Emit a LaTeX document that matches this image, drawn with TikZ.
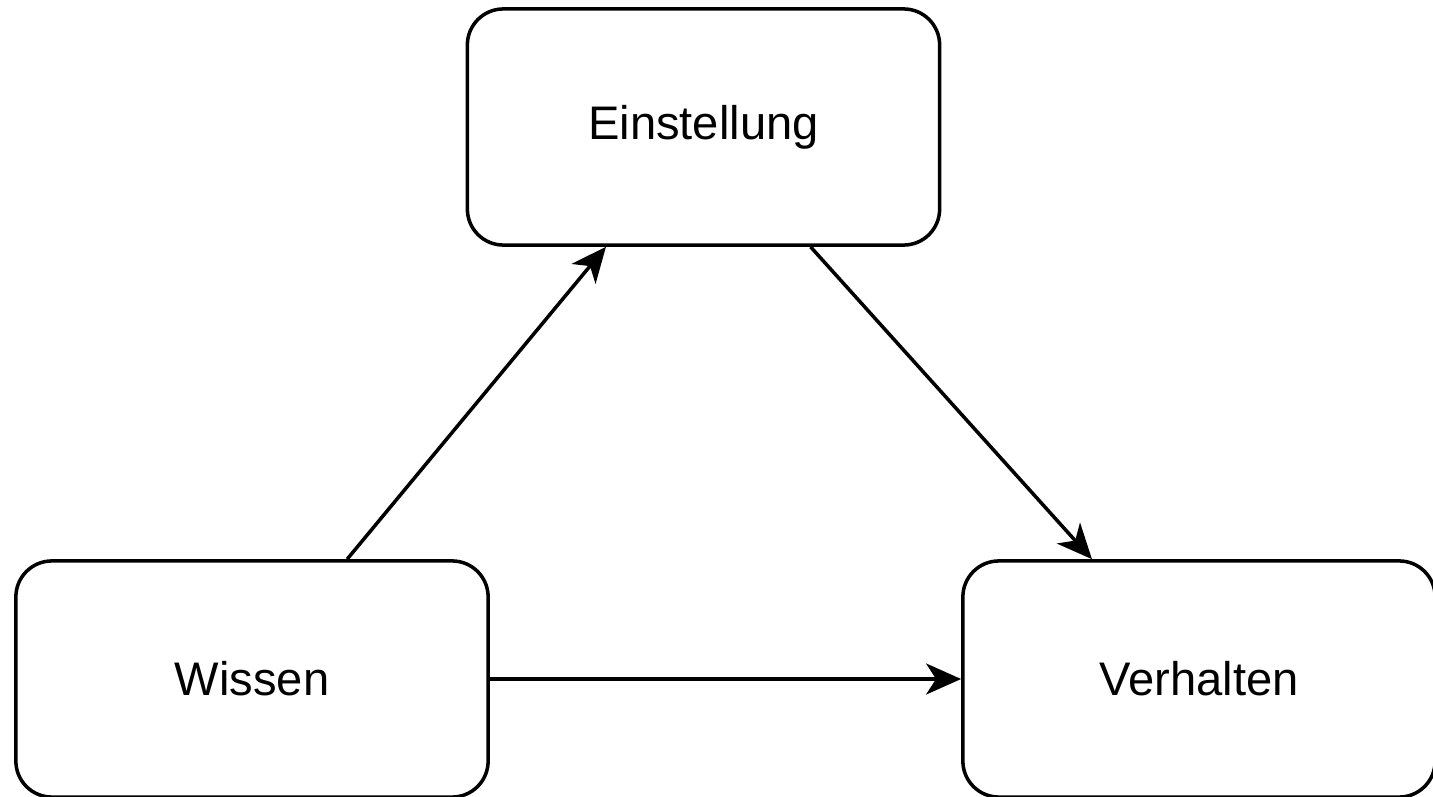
\documentclass[tikz,border=0pt]{standalone}
\usepackage{fontspec}
\setmainfont{Liberation Sans}
\usetikzlibrary{positioning,arrows.meta,calc}
\tikzset{
    box/.style = {
        draw,
        shape=rectangle,
        minimum width=4.72cm,
        minimum height=2.36cm,
        line width=1pt,
        rounded corners=0.36cm,
        font=\fontsize{13.4}{15}\selectfont
    },
    link/.style = {
        draw,
        line width=1pt,
        -{Stealth[length=0.35cm,width=0.31cm,inset=0.1cm]}
    },
}
\begin{document}
\begin{tikzpicture}[x=0.01cm,y=-0.01cm]
            \useasboundingbox (0,0) rectangle (1433,797);
            \node[box] (einstellung) at (703.5,127) {Einstellung};
            \node[box] (wissen) at (252,679) {Wissen};
            \node[box] (verhalten) at (1199,679) {Verhalten};

            \path[link] ($(wissen.north)!0.4!(wissen.north east)$) -- ($(einstellung.south)!0.41!(einstellung.south west)$);
            \path[link] ($(einstellung.south)!0.45!(einstellung.south east)$) -- ($(verhalten.north)!0.45!(verhalten.north west)$);
            \path[link] (wissen.east) -- (verhalten.west);
        \end{tikzpicture}
\end{document}
